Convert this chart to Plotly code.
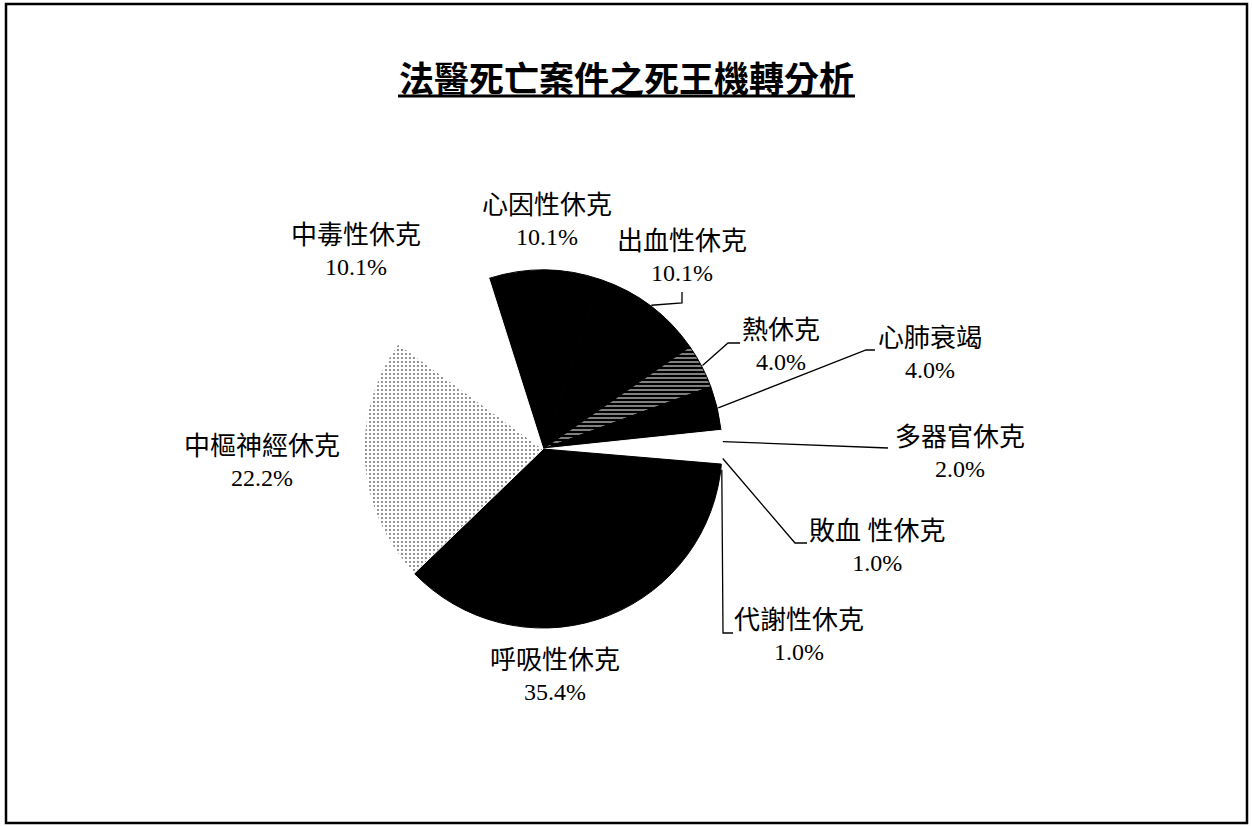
import math
import plotly.graph_objects as go

# Causes of death mechanism (share of forensic death cases, %)
labels = ["心因性休克", "出血性休克", "熱休克", "心肺衰竭", "多器官休克",
          "敗血 性休克", "代謝性休克", "呼吸性休克", "中樞神經休克", "中毒性休克"]
shares = [10.1, 10.1, 4.0, 4.0, 2.0, 1.0, 1.0, 35.4, 22.2, 10.1]

title_text = "法醫死亡案件之死王機轉分析"

# Slice fills
fills = ["#000000", "#000000", "#000000", "#000000", "#ffffff",
         "#ffffff", "#000000", "#000000", "#ffffff", "#ffffff"]
pat_shapes = ["", "", "-", "", "", "", "", "", ".", ""]
pat_fg = ["#000", "#000", "#ffffff", "#000", "#000", "#000", "#000", "#000", "#6a6a6a", "#000"]
pat_bg = ["#000", "#000", "#000000", "#000", "#fff", "#fff", "#000", "#000", "#ffffff", "#fff"]
pat_solid = [0.2, 0.2, 0.25, 0.2, 0.2, 0.2, 0.2, 0.2, 0.18, 0.2]
edge_colors = ["#000000", "#000000", "#000000", "#000000", "#ffffff",
               "#ffffff", "#000000", "#000000", "#ffffff", "#ffffff"]

W, H = 1252, 826
CX, CY, R = 543, 449, 179
ROT = -17.6

# label centres (pixels) and leader-line bends (pixels) per slice
label_pos = [(547, 220), (682, 256), (781, 346), (930, 353), (960, 452),
             (877, 546), (799, 635), (555, 675), (262, 461), (356, 250)]
leader_bends = {
    1: [(682, 303), (682, 292)],
    2: [(728, 343), (740, 343)],
    3: [(866, 350), (875, 350)],
    4: [(888, 448)],
    5: [(795, 543), (807, 543)],
    6: [(723, 633), (733, 633)],
}


def px(x, y):
    return x / W, 1 - y / H


fig = go.Figure()
fig.add_trace(go.Pie(
    labels=labels, values=shares, sort=False, direction="clockwise",
    rotation=ROT, textinfo="none", hoverinfo="label+percent",
    marker=dict(colors=fills, line=dict(width=1, color=edge_colors),
                pattern=dict(shape=pat_shapes, fgcolor=pat_fg, bgcolor=pat_bg,
                             size=4, solidity=pat_solid, fillmode="replace")),
    domain=dict(x=[(CX - R) / W, (CX + R) / W], y=[1 - (CY + R) / H, 1 - (CY - R) / H]),
    showlegend=False,
))

total = sum(shares)
shapes = []
annotations = []
cum = 0.0
for i, (lab, v) in enumerate(zip(labels, shares)):
    mid = math.radians(ROT + 360 * (cum + v / 2) / total)
    cum += v
    ax_, ay_ = CX + (R + 1) * math.sin(mid), CY - (R + 1) * math.cos(mid)
    if i in leader_bends:
        pts = [(ax_, ay_)] + leader_bends[i]
        path = "M " + " L ".join(f"{px(x, y)[0]:.5f},{px(x, y)[1]:.5f}" for x, y in pts)
        shapes.append(dict(type="path", xref="paper", yref="paper", path=path,
                           line=dict(color="black", width=1.3)))
    lx, ly = px(*label_pos[i])
    annotations.append(dict(
        x=lx, y=ly, xref="paper", yref="paper", showarrow=False,
        text=f"<span style='font-size:26px'>{lab}</span><br>{v:.1f}%",
        align="center", xanchor="center", yanchor="middle",
        font=dict(family="Liberation Serif, 'Noto Sans CJK TC'", size=24, color="black"),
    ))

# title
tx, ty = px(626, 77)
annotations.append(dict(
    x=tx, y=ty, xref="paper", yref="paper", showarrow=False, text=f"<b>{title_text}</b>",
    xanchor="center", yanchor="middle",
    font=dict(family="'Noto Sans CJK TC'", size=35, color="black"),
))
ux0, uy = px(398, 96)
ux1, _ = px(855, 96)
shapes.append(dict(type="line", xref="paper", yref="paper", x0=ux0, x1=ux1, y0=uy, y1=uy,
                   line=dict(color="black", width=3)))

# outer frame
fx0, fy0 = px(6, 823)
fx1, fy1 = px(1247, 4)
shapes.append(dict(type="rect", xref="paper", yref="paper", x0=fx0, y0=fy0, x1=fx1, y1=fy1,
                   line=dict(color="black", width=2.5)))

fig.update_layout(
    width=W, height=H, margin=dict(l=0, r=0, t=0, b=0),
    paper_bgcolor="white", plot_bgcolor="white",
    shapes=shapes, annotations=annotations,
)

fig.write_html("out.html")
